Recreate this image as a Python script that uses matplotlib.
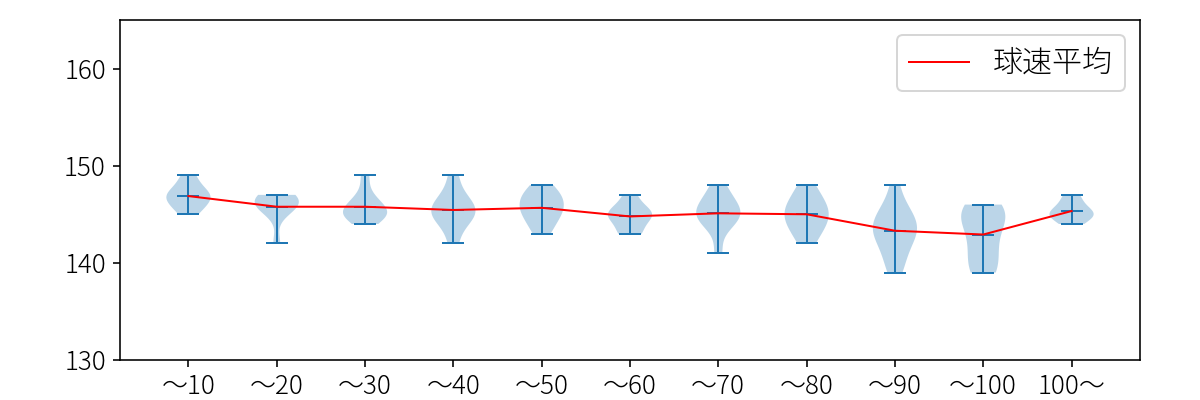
import matplotlib
matplotlib.use("Agg")
import matplotlib.pyplot as plt
import numpy as np

plt.rcParams['font.family'] = ['Noto Sans CJK JP', 'DejaVu Sans']
plt.rcParams['font.weight'] = 'light'

# pitch speed (km/h) per pitch-count bin
labels = ['～10', '～20', '～30', '～40', '～50', '～60', '～70', '～80', '～90', '～100', '100～']
speeds = [
    [145, 146, 146, 147, 147, 147, 148, 149],
    [142, 145, 146, 146, 146, 146, 147, 147, 147],
    [144, 145, 145, 145, 145, 146, 146, 147, 149],
    [142, 144, 145, 145, 145, 146, 146, 147, 149],
    [143, 144, 145, 145, 146, 146, 147, 147, 148],
    [143, 143, 144, 145, 145, 145, 145, 146, 147],
    [141, 144, 144, 145, 145, 145, 146, 146, 147, 148],
    [142, 143, 144, 144, 145, 145, 146, 146, 147, 148],
    [139, 140, 141, 142, 143, 143, 143, 144, 144, 145, 145, 146, 148],
    [139, 139, 140, 141, 142, 143, 144, 145, 145, 145, 146, 146],
    [144, 145, 145, 145, 146, 147],
]

fig, ax = plt.subplots(figsize=(12 / 1.44, 4 / 1.44), dpi=144)
plt.subplots_adjust(left=0.1, right=0.95, bottom=0.1, top=0.95)

pos = np.arange(1, len(labels) + 1)
parts = ax.violinplot(speeds, positions=pos, showmeans=True)
for key in ['cbars', 'cmins', 'cmaxes', 'cmeans']:
    parts[key].set_linewidth(1.0)

means = [np.mean(s) for s in speeds]
ax.plot(pos, means, color='red', linewidth=1, label='球速平均')

ax.set_ylim(130, 165)
ax.set_xticks(pos)
ax.set_xticklabels(labels, fontsize=13)
ax.set_yticks([130, 140, 150, 160])
ax.tick_params(axis='y', labelsize=13)
ax.legend(loc='upper right', fontsize=15)

plt.savefig('out.png')
